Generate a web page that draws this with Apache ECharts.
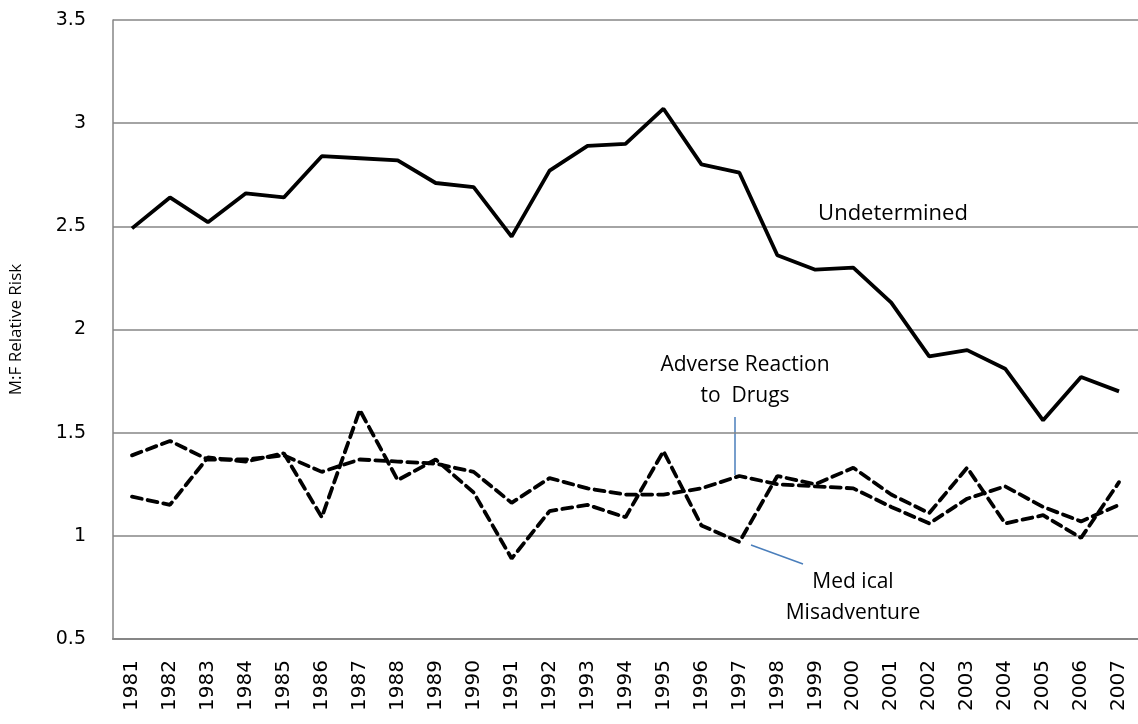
<!DOCTYPE html>
<html style="height: 100%">
<head>
    <meta charset="utf-8">
</head>
<body style="height: 100%; margin: 0; background: #fff">
<div id="container" style="width: 1138px; height: 724px"></div>
<script type="text/javascript" src="https://cdn.jsdelivr.net/npm/echarts@6/dist/echarts.min.js"></script>
<script type="text/javascript">
    const years = ['1981', '1982', '1983', '1984', '1985', '1986', '1987', '1988', '1989', '1990',
        '1991', '1992', '1993', '1994', '1995', '1996', '1997', '1998', '1999', '2000',
        '2001', '2002', '2003', '2004', '2005', '2006', '2007'];
    const undetermined = [2.49, 2.64, 2.52, 2.66, 2.64, 2.84, 2.83, 2.82, 2.71, 2.69,
        2.45, 2.77, 2.89, 2.90, 3.07, 2.80, 2.76, 2.36, 2.29, 2.30,
        2.13, 1.87, 1.90, 1.81, 1.56, 1.77, 1.70];
    const adverseDrugs = [1.39, 1.46, 1.37, 1.37, 1.39, 1.31, 1.37, 1.36, 1.35, 1.31,
        1.16, 1.28, 1.23, 1.20, 1.20, 1.23, 1.29, 1.25, 1.24, 1.23,
        1.14, 1.06, 1.18, 1.24, 1.14, 1.07, 1.15];
    const medMisadventure = [1.19, 1.15, 1.38, 1.36, 1.40, 1.09, 1.61, 1.27, 1.37, 1.21,
        0.89, 1.12, 1.15, 1.09, 1.41, 1.05, 0.97, 1.29, 1.25, 1.33,
        1.20, 1.11, 1.33, 1.06, 1.10, 0.99, 1.26];

    var dom = document.getElementById("container");
    var myChart = echarts.init(dom);

    const dashed = {color: '#000', width: 3.8, type: [10, 6], cap: 'round'};
    const labelFont = '"Open Sans", sans-serif';

    function note(text, x, y) {
        return {
            type: 'text', x: x, y: y,
            style: {
                text: text, fontSize: 21, lineHeight: 31, fontFamily: labelFont,
                fill: '#000', align: 'center', verticalAlign: 'middle'
            }
        };
    }

    var option = {
        animation: false,
        grid: {left: 113, right: 0, top: 20, bottom: 85, outerBoundsMode: 'none'},
        xAxis: {
            type: 'category',
            data: years,
            boundaryGap: true,
            axisLine: {lineStyle: {color: '#868686', width: 2}},
            axisTick: {show: false},
            axisLabel: {
                rotate: 90, margin: 21, interval: 0,
                color: '#000', fontSize: 20, fontFamily: 'DejaVu Sans'
            }
        },
        yAxis: {
            type: 'value',
            min: 0.5, max: 3.5, interval: 0.5,
            name: 'M:F Relative Risk',
            nameLocation: 'middle',
            nameGap: 88,
            nameTextStyle: {color: '#000', fontSize: 17, fontFamily: labelFont},
            axisLine: {show: true, lineStyle: {color: '#868686', width: 1.5}},
            axisTick: {show: false},
            axisLabel: {color: '#000', fontSize: 19, margin: 27, fontFamily: 'DejaVu Sans'},
            splitLine: {lineStyle: {color: '#868686', width: 1.5}}
        },
        series: [
            {
                name: 'Undetermined', type: 'line', data: undetermined,
                symbol: 'none', lineStyle: {color: '#000', width: 3.8}
            },
            {
                name: 'Adverse Reaction to Drugs', type: 'line', data: adverseDrugs,
                symbol: 'none', lineStyle: dashed
            },
            {
                name: 'Medical Misadventure', type: 'line', data: medMisadventure,
                symbol: 'none', lineStyle: dashed
            }
        ],
        graphic: [
            {
                type: 'text', x: 893, y: 214,
                style: {
                    text: 'Undetermined', fontSize: 22, fontFamily: labelFont,
                    fill: '#000', align: 'center', verticalAlign: 'middle'
                }
            },
            note('Adverse Reaction\nto  Drugs', 745, 381),
            {type: 'line', shape: {x1: 735, y1: 417, x2: 735, y2: 475},
                style: {stroke: '#4a7ebb', lineWidth: 1.5}},
            note('Med ical\nMisadventure', 853, 598),
            {type: 'line', shape: {x1: 751, y1: 545, x2: 803, y2: 564},
                style: {stroke: '#4a7ebb', lineWidth: 1.5}}
        ]
    };

    if (option && typeof option === 'object') {
        myChart.setOption(option);
    }
</script>
</body>
</html>
